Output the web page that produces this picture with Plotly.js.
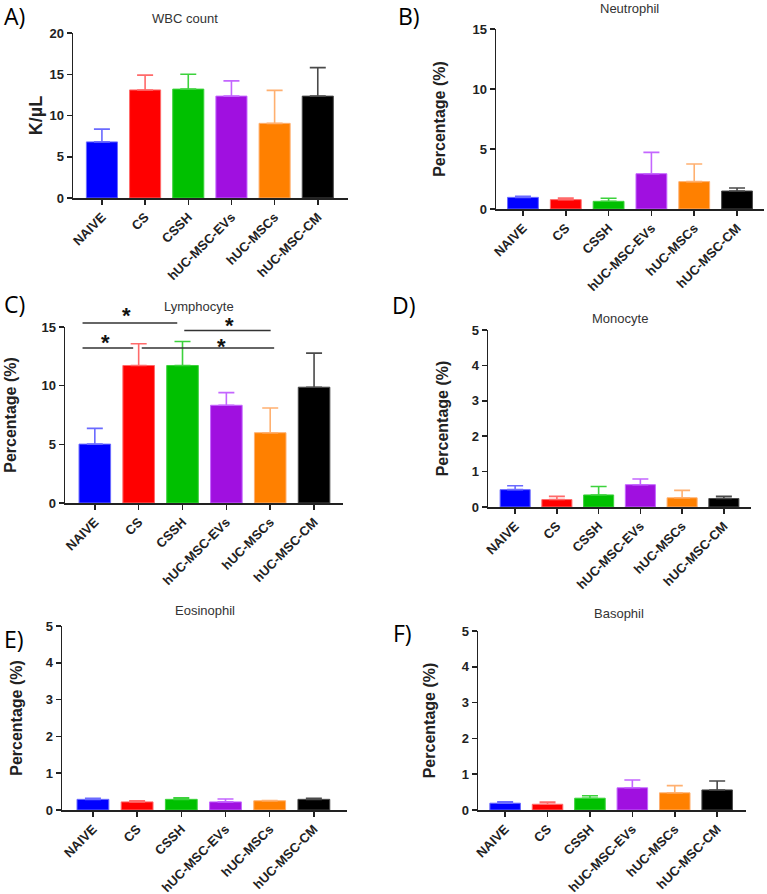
<!DOCTYPE html>
<html>
<head>
<meta charset="utf-8">
<script src="https://cdn.plot.ly/plotly-3.0.1.min.js"></script>
<style>
  body { margin: 0; background: #fff; }
  #chart { width: 767px; height: 894px; }
</style>
</head>
<body>
<div id="chart"></div>
<script>
const groups = ['NAIVE', 'CS', 'CSSH', 'hUC-MSC-EVs', 'hUC-MSCs', 'hUC-MSC-CM'];
const barColors = ['#0000ff', '#ff0000', '#00c000', '#a010e0', '#ff8000', '#000000'];
const errColors = ['#6a6aff', '#ff6a6a', '#3cd23c', '#c466ff', '#ffb070', '#4a4a4a'];

// mean and upper error (SEM) per panel
const wbcMean = [6.8, 13.1, 13.2, 12.35, 9.05, 12.35];
const wbcErr = [1.55, 1.8, 1.8, 1.85, 4.0, 3.45];
const neutMean = [0.97, 0.78, 0.64, 2.94, 2.28, 1.5];
const neutErr = [0.08, 0.14, 0.25, 1.78, 1.47, 0.25];
const lymphMean = [5.02, 11.72, 11.72, 8.33, 5.99, 9.87];
const lymphErr = [1.34, 1.85, 2.05, 1.08, 2.11, 2.9];
const monoMean = [0.49, 0.21, 0.34, 0.63, 0.26, 0.24];
const monoErr = [0.11, 0.09, 0.24, 0.16, 0.21, 0.06];
const eosMean = [0.29, 0.22, 0.29, 0.22, 0.25, 0.29];
const eosErr = [0.03, 0.03, 0.04, 0.08, 0.01, 0.03];
const basoMean = [0.19, 0.16, 0.33, 0.62, 0.48, 0.56];
const basoErr = [0.04, 0.06, 0.07, 0.22, 0.2, 0.25];

// significance brackets in lymphocyte panel (x in category units, y in %)
const sigLines = [
    {x0: -0.28, x1: 1.88, y: 15.34},
    {x0: 2.04, x1: 4.01, y: 14.71},
    {x0: -0.28, x1: 0.875, y: 13.2},
    {x0: 1.07, x1: 4.09, y: 13.2}
];
const sigStars = [
    {x: 0.72, y: 16.3},
    {x: 3.07, y: 15.5},
    {x: 0.25, y: 14.05},
    {x: 2.89, y: 13.7}
];

const W = 767, H = 894;
// panel boxes in px: left, right, top, bottom
const panels = [
    {mean: wbcMean, err: wbcErr, box: [73, 348, 33, 198], xr: [-0.67, 5.7], ymax: 20, dtick: 5,
     ytitle: 'K/µL', tsize: 18, standoff: 2, title: 'WBC count', tpos: [185, 19], letter: 'A)', lpos: [2, 16]},
    {mean: neutMean, err: neutErr, box: [496, 764, 29, 209], xr: [-0.63, 5.63], ymax: 15, dtick: 5,
     ytitle: 'Percentage (%)', tsize: 16, standoff: 23, title: 'Neutrophil', tpos: [629, 8], letter: 'B)', lpos: [396, 16]},
    {mean: lymphMean, err: lymphErr, box: [65, 343, 327, 503], xr: [-0.68, 5.66], ymax: 15, dtick: 5,
     ytitle: 'Percentage (%)', tsize: 16, standoff: 21, title: 'Lymphocyte', tpos: [199, 306], letter: 'C)', lpos: [2, 304]},
    {mean: monoMean, err: monoErr, box: [488, 751, 330, 507], xr: [-0.65, 5.65], ymax: 5, dtick: 1,
     ytitle: 'Percentage (%)', tsize: 16, standoff: 19, title: 'Monocyte', tpos: [620, 318], letter: 'D)', lpos: [390, 305]},
    {mean: eosMean, err: eosErr, box: [62, 347, 626, 810], xr: [-0.7, 5.75], ymax: 5, dtick: 1,
     ytitle: 'Percentage (%)', tsize: 16, standoff: 19, title: 'Eosinophil', tpos: [205, 610], letter: 'E)', lpos: [2, 639]},
    {mean: basoMean, err: basoErr, box: [478, 746, 631, 810], xr: [-0.64, 5.68], ymax: 5, dtick: 1,
     ytitle: 'Percentage (%)', tsize: 16, standoff: 22, title: 'Basophil', tpos: [619, 613], letter: 'F)', lpos: [391, 633]}
];

const FONT = 'Liberation Sans, Arial, sans-serif';
var data = [];
var layout = {
    width: W, height: H,
    margin: {l: 0, r: 0, t: 0, b: 0},
    paper_bgcolor: '#fff', plot_bgcolor: 'rgba(0,0,0,0)',
    showlegend: false,
    barmode: 'overlay',
    bargap: 0.28,
    font: {family: FONT, color: '#222'},
    annotations: [], shapes: []
};

panels.forEach(function (p, i) {
    var n = i === 0 ? '' : String(i + 1);
    // one trace per group so every error bar gets its own colour
    for (let g = 0; g < groups.length; g++) {
        data.push({
            type: 'bar',
            x: [groups[g]],
            y: [p.mean[g]],
            name: groups[g],
            xaxis: 'x' + n, yaxis: 'y' + n,
            marker: {color: barColors[g], line: {color: errColors[g], width: 1}},
            error_y: {type: 'data', symmetric: false, array: [p.err[g]], arrayminus: [0],
                      color: errColors[g], thickness: 1.6, width: 8}
        });
    }
    var axStyle = {
        showline: true, linecolor: '#222', linewidth: 1.5,
        ticks: 'outside', ticklen: 5, tickwidth: 1.5, tickcolor: '#222',
        showgrid: false, zeroline: false, fixedrange: true
    };
    layout['xaxis' + n] = Object.assign({}, axStyle, {
        domain: [p.box[0] / W, p.box[1] / W],
        anchor: 'y' + n, type: 'category', range: p.xr, tickangle: -45,
        categoryorder: 'array', categoryarray: groups,
        tickfont: {family: FONT, size: 13, color: '#222', weight: 'bold'}
    });
    layout['yaxis' + n] = Object.assign({}, axStyle, {
        domain: [1 - p.box[3] / H, 1 - p.box[2] / H],
        anchor: 'x' + n, range: [0, p.ymax], dtick: p.dtick, tick0: 0,
        tickfont: {family: FONT, size: 13, color: '#222', weight: 'bold'},
        title: {text: p.ytitle, standoff: p.standoff, font: {family: FONT, size: p.tsize, color: '#222', weight: 'bold'}}
    });
    layout.annotations.push({
        xref: 'paper', yref: 'paper', x: p.tpos[0] / W, y: 1 - p.tpos[1] / H,
        xanchor: 'center', yanchor: 'middle', showarrow: false,
        text: p.title, font: {family: FONT, size: 13, color: '#333'}
    });
    layout.annotations.push({
        xref: 'paper', yref: 'paper', x: p.lpos[0] / W, y: 1 - p.lpos[1] / H,
        xanchor: 'left', yanchor: 'middle', showarrow: false,
        text: p.letter, font: {family: 'Open Sans, Liberation Sans, sans-serif', size: 23, color: '#000'}
    });
});

// significance marks on the lymphocyte panel (panel index 2 -> x3/y3)
var lp = panels[2];
function xDom(v) { return (v - lp.xr[0]) / (lp.xr[1] - lp.xr[0]); }
function yDom(v) { return v / lp.ymax; }
sigLines.forEach(function (s) {
    layout.shapes.push({
        type: 'line', xref: 'x3 domain', yref: 'y3 domain',
        x0: xDom(s.x0), x1: xDom(s.x1), y0: yDom(s.y), y1: yDom(s.y),
        line: {color: '#333', width: 1.5}
    });
});
sigStars.forEach(function (s) {
    layout.annotations.push({
        xref: 'x3 domain', yref: 'y3 domain', x: xDom(s.x), y: yDom(s.y),
        xanchor: 'center', yanchor: 'middle', yshift: -4, showarrow: false,
        text: '*', font: {family: FONT, size: 22, color: '#111', weight: 'bold'}
    });
});

Plotly.newPlot('chart', data, layout, {displayModeBar: false, staticPlot: true});
</script>
</body>
</html>
